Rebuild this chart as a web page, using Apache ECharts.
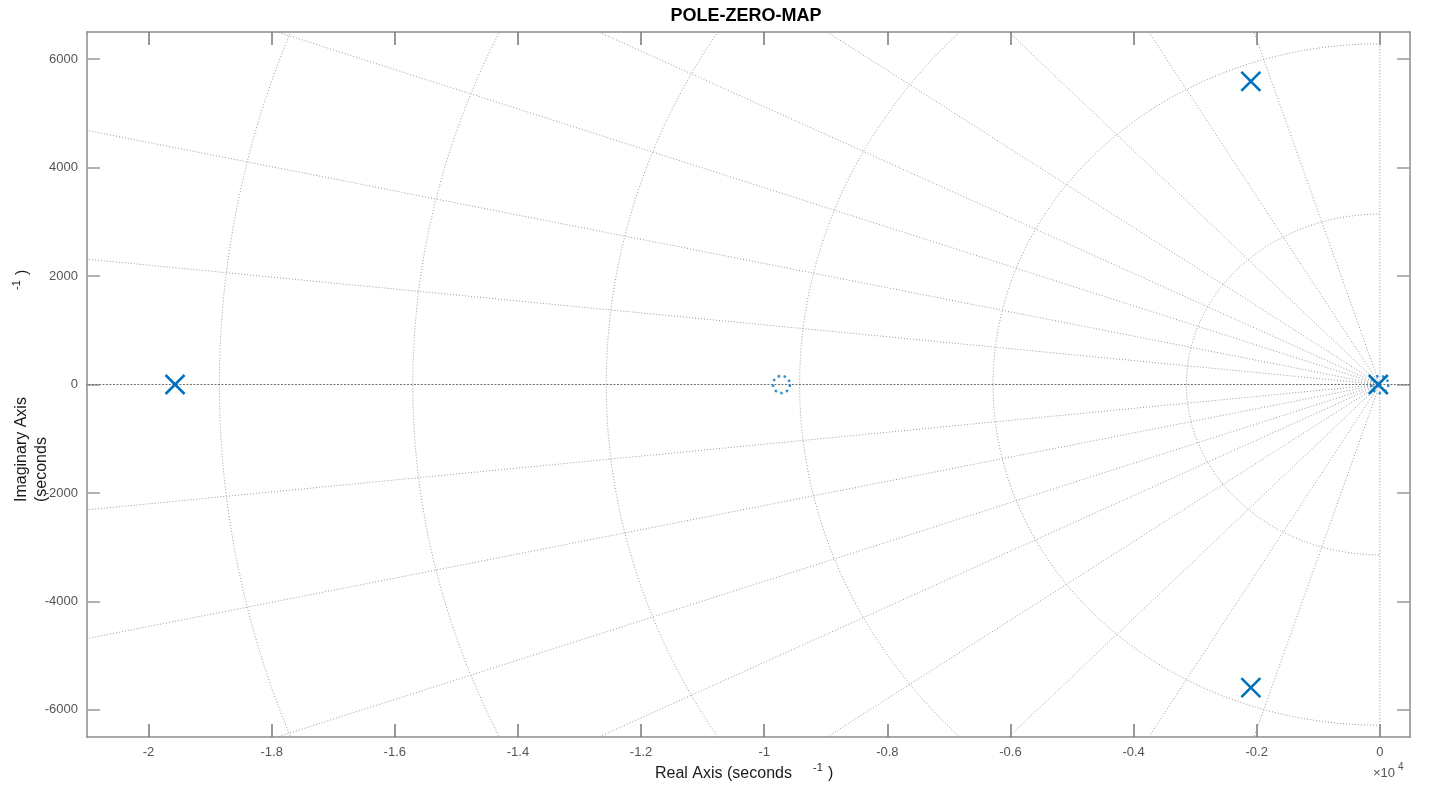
<!DOCTYPE html>
<html>
<head>
<meta charset="utf-8">
<title>POLE-ZERO-MAP</title>
<script src="https://cdn.jsdelivr.net/npm/echarts@6/dist/echarts.min.js"></script>
<style>
  html, body { margin: 0; padding: 0; background: #ffffff; }
  #chart { width: 1431px; height: 785px; }
</style>
</head>
<body>
<div id="chart"></div>
<script>
// Poles and zeros of the system as [real, imaginary] (seconds^-1)
const poles = [[-19570, 0], [-2095, 5590], [-2095, -5590], [-25, 0]];
const zeros = [[-9720, 0], [0, 0]];

// Axis ranges and tick positions
const realRange = [-21000, 490];
const imagRange = [-6500, 6500];
const realTicks = [-20000, -18000, -16000, -14000, -12000, -10000, -8000, -6000, -4000, -2000, 0];
const imagTicks = [-6000, -4000, -2000, 0, 2000, 4000, 6000];

// s-plane grid: constant damping rays and constant natural-frequency arcs
const dampingRatios = [0.3, 0.5, 0.68, 0.81, 0.89, 0.94, 0.976, 0.994];
const naturalFreqs = [3142, 6283, 9425, 12566, 15708, 18850, 21991];

const FONT = '"Liberation Sans", Arial, Helvetica, sans-serif';
const BLUE = '#0072BD';
const AXIS_GREY = '#8c8c8c';
const TICK_TEXT = '#555555';

const gridLine = { color: '#9a9a9a', width: 1, type: [1, 2] };

function gridSeriesItem(points, style) {
  return {
    type: 'line',
    data: points,
    showSymbol: false,
    symbol: 'none',
    silent: true,
    animation: false,
    clip: true,
    z: 1,
    lineStyle: style || gridLine
  };
}

const series = [];

// damping rays, mirrored above and below the real axis
dampingRatios.forEach(function (zeta) {
  const r = 40000;
  const re = -r * zeta;
  const im = r * Math.sqrt(1 - zeta * zeta);
  series.push(gridSeriesItem([[0, 0], [re, im]]));
  series.push(gridSeriesItem([[0, 0], [re, -im]]));
});

// natural-frequency semicircles in the left half-plane
naturalFreqs.forEach(function (wn) {
  const pts = [];
  for (let a = 90; a <= 270; a += 1) {
    const t = a * Math.PI / 180;
    pts.push([wn * Math.cos(t), wn * Math.sin(t)]);
  }
  series.push(gridSeriesItem(pts));
});

// zero-damping line (imaginary axis) and the real axis
series.push(gridSeriesItem([[0, imagRange[0] - 1000], [0, imagRange[1] + 1000]]));
series.push(gridSeriesItem([[realRange[0] - 1000, 0], [realRange[1] + 1000, 0]],
  { color: '#6e6e6e', width: 1, type: [2, 1.5] }));

// zeros: dotted circles
series.push({
  type: 'scatter',
  data: zeros,
  symbol: 'circle',
  symbolSize: 17,
  silent: true,
  animation: false,
  clip: false,
  z: 4,
  itemStyle: {
    color: 'rgba(0,0,0,0)',
    borderColor: BLUE,
    borderWidth: 2.5,
    borderType: [2.5, 3.5]
  }
});

// poles: crosses
series.push({
  type: 'custom',
  data: poles,
  encode: { x: 0, y: 1 },
  silent: true,
  animation: false,
  clip: false,
  z: 5,
  renderItem: function (params, api) {
    const p = api.coord([api.value(0), api.value(1)]);
    const h = 9.5;
    const st = { stroke: BLUE, lineWidth: 2.6, lineCap: 'butt' };
    return {
      type: 'group',
      children: [
        { type: 'line', shape: { x1: p[0] - h, y1: p[1] - h, x2: p[0] + h, y2: p[1] + h }, style: st },
        { type: 'line', shape: { x1: p[0] - h, y1: p[1] + h, x2: p[0] + h, y2: p[1] - h }, style: st }
      ]
    };
  }
});

function boxAxis(base) {
  return Object.assign({
    type: 'value',
    axisLine: { show: true, onZero: false, lineStyle: { color: AXIS_GREY, width: 1.5 } },
    axisTick: { show: true, inside: true, length: 13, lineStyle: { color: '#777777', width: 1.5 } },
    splitLine: { show: false },
    axisLabel: { show: false }
  }, base);
}

const option = {
  backgroundColor: '#ffffff',
  animation: false,
  grid: { left: 87, right: 21, top: 32, bottom: 48, containLabel: false },
  xAxis: [
    boxAxis({
      position: 'bottom',
      min: realRange[0], max: realRange[1],
      axisTick: { show: true, inside: true, length: 13, customValues: realTicks, lineStyle: { color: '#777777', width: 1.5 } },
      axisLabel: {
        show: true, customValues: realTicks, margin: 9,
        color: TICK_TEXT, fontSize: 13, fontFamily: FONT,
        formatter: function (v) { return String(v / 10000); }
      }
    }),
    boxAxis({
      position: 'top',
      min: realRange[0], max: realRange[1],
      axisTick: { show: true, inside: true, length: 13, customValues: realTicks, lineStyle: { color: '#777777', width: 1.5 } }
    })
  ],
  yAxis: [
    boxAxis({
      position: 'left',
      min: imagRange[0], max: imagRange[1],
      axisTick: { show: true, inside: true, length: 13, customValues: imagTicks, lineStyle: { color: '#999999', width: 1.5 } },
      axisLabel: {
        show: true, customValues: imagTicks, margin: 9,
        color: TICK_TEXT, fontSize: 13, fontFamily: FONT,
        formatter: function (v) { return String(v); }
      }
    }),
    boxAxis({
      position: 'right',
      min: imagRange[0], max: imagRange[1],
      axisTick: { show: true, inside: true, length: 13, customValues: imagTicks, lineStyle: { color: '#999999', width: 1.5 } }
    })
  ],
  graphic: [
    { type: 'text', x: 746, y: 16, style: { text: 'POLE-ZERO-MAP', fill: '#000000', font: 'bold 18px ' + FONT, textAlign: 'center', textVerticalAlign: 'middle' } },
    // x-axis title
    { type: 'text', x: 655, y: 774, style: { text: 'Real Axis (seconds', fill: '#1a1a1a', font: '16px ' + FONT, textAlign: 'left', textVerticalAlign: 'middle' } },
    { type: 'text', x: 813, y: 768, style: { text: '-1', fill: '#1a1a1a', font: '11px ' + FONT, textAlign: 'left', textVerticalAlign: 'middle' } },
    { type: 'text', x: 828, y: 774, style: { text: ')', fill: '#1a1a1a', font: '16px ' + FONT, textAlign: 'left', textVerticalAlign: 'middle' } },
    // exponent of the real axis
    { type: 'text', x: 1373, y: 773, style: { text: '\u00d710', fill: TICK_TEXT, font: '13px ' + FONT, textAlign: 'left', textVerticalAlign: 'middle' } },
    { type: 'text', x: 1398, y: 767, style: { text: '4', fill: TICK_TEXT, font: '10px ' + FONT, textAlign: 'left', textVerticalAlign: 'middle' } },
    // y-axis title
    { type: 'text', x: 22, y: 502, rotation: Math.PI / 2, style: { text: 'Imaginary Axis', fill: '#1a1a1a', font: '16px ' + FONT, textAlign: 'left', textVerticalAlign: 'middle' } },
    { type: 'text', x: 42, y: 502, rotation: Math.PI / 2, style: { text: '(seconds', fill: '#1a1a1a', font: '16px ' + FONT, textAlign: 'left', textVerticalAlign: 'middle' } },
    { type: 'text', x: 17, y: 290, rotation: Math.PI / 2, style: { text: '-1', fill: '#1a1a1a', font: '11px ' + FONT, textAlign: 'left', textVerticalAlign: 'middle' } },
    { type: 'text', x: 23, y: 275, rotation: Math.PI / 2, style: { text: ')', fill: '#1a1a1a', font: '16px ' + FONT, textAlign: 'left', textVerticalAlign: 'middle' } }
  ],
  series: series
};

const chart = echarts.init(document.getElementById('chart'), null, { renderer: 'canvas' });
chart.setOption(option);
</script>
</body>
</html>
